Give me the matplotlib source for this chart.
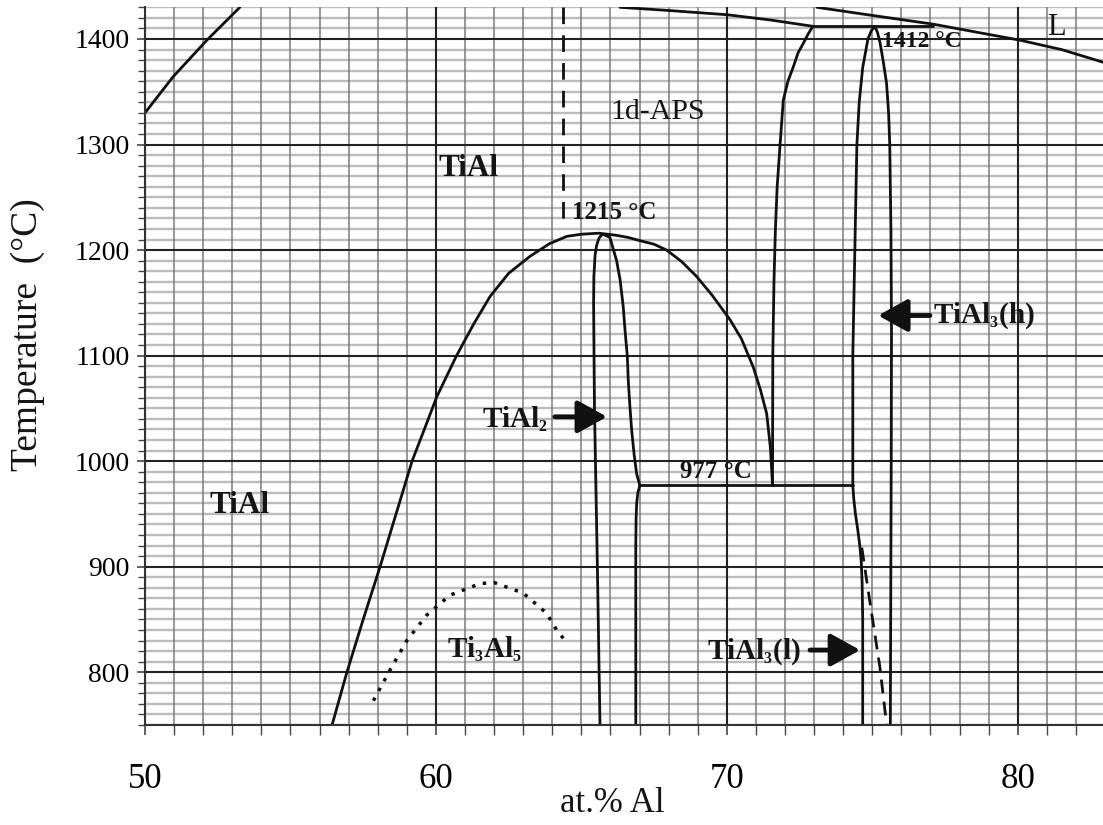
import matplotlib
matplotlib.use("Agg")
import matplotlib.pyplot as plt
import matplotlib._mathtext as mathtext_core
from matplotlib.ticker import MultipleLocator

plt.rcParams['font.family'] = ['Liberation Serif', 'DejaVu Serif']
plt.rcParams['mathtext.fontset'] = 'custom'
plt.rcParams['mathtext.rm'] = 'Liberation Serif:bold'
plt.rcParams['mathtext.default'] = 'rm'
# smaller chemical-formula subscripts
mathtext_core.SHRINK_FACTOR = 0.55

# --- phase boundaries (at.% Al, °C) ---
# upper-left liquidus
liq_left_x = [50.0, 50.96, 52.13, 53.26]
liq_left_t = [1330, 1364, 1399, 1430]

# liquidus ending at the 1412 °C peritectic
liq_mid_x = [66.33, 68.0, 70.0, 71.5, 72.96]
liq_mid_t = [1430, 1427, 1423, 1418, 1412]

# liquidus right of the peritectic
liq_right_x = [73.1, 74.58, 77.1, 80.05, 81.5, 82.93]
liq_right_t = [1430, 1424, 1414, 1399, 1390, 1378]

# big dome (1d-APS region)
dome_x = [56.43, 56.94, 57.5, 58.08, 58.63, 59.18, 59.6, 60.03, 60.71, 61.3, 61.86,
          62.5, 63.23, 63.9, 64.5, 65.0, 65.6, 66.2, 66.6, 67.0, 67.5, 67.93, 68.45,
          68.96, 69.5, 70.11, 70.5, 70.91, 71.15, 71.37, 71.5, 71.57]
dome_t = [750, 800, 850, 900, 950, 1000, 1030, 1061, 1100, 1130, 1156,
          1178, 1194, 1206, 1213, 1215, 1216, 1214, 1212, 1209, 1205.5, 1200, 1189,
          1175, 1157, 1134, 1116, 1089, 1068, 1045, 1012, 977]

# TiAl2 field
tial2_x = [65.64, 65.55, 65.45, 65.42, 65.43, 65.47, 65.52, 65.6, 65.68, 65.75,
           65.98, 66.21, 66.33, 66.44, 66.5, 66.58, 66.61, 66.67, 66.73, 66.81,
           66.9, 67.01]
tial2_t = [750, 900, 1050, 1150, 1175, 1195, 1204, 1211, 1214, 1215,
           1212, 1190, 1172, 1146, 1124, 1099, 1077, 1051, 1029, 1007,
           988, 977]

# boundary below the eutectoid, left side
low_left_x = [67.01, 66.94, 66.9, 66.88, 66.87, 66.87]
low_left_t = [977, 970, 960, 945, 920, 750]

# TiAl3(l) boundary below the eutectoid
low_right_x = [74.33, 74.36, 74.42, 74.5, 74.57, 74.62, 74.65, 74.67, 74.67]
low_right_t = [977, 965, 950, 935, 920, 905, 885, 850, 750]

# outer TiAl3(h) boundary
h_outer_x = [71.57, 71.58, 71.62, 71.67, 71.73, 71.83, 71.94, 72.1, 72.29,
             72.45, 72.63, 72.8, 72.96]
h_outer_t = [977, 1100, 1170, 1220, 1260, 1300, 1342, 1360, 1374,
             1387, 1396, 1405, 1412]

# inner TiAl3(h) dome
h_inner_x = [74.33, 74.33, 74.4, 74.47, 74.55, 74.67, 74.85, 74.97, 75.09,
             75.18, 75.27, 75.38, 75.49, 75.56, 75.6, 75.64, 75.66, 75.65, 75.62]
h_inner_t = [977, 1100, 1200, 1300, 1340, 1373, 1400, 1408, 1412,
             1406, 1396, 1378, 1358, 1330, 1300, 1220, 1121, 1000, 750]

# isotherms
eutectoid_x = [67.01, 74.33]
eutectoid_t = [977, 977]
peritectic_x = [72.96, 77.1]
peritectic_t = [1412, 1412]

# dashed TiAl3(l)/TiAl3(h) boundary
dash_x = [74.64, 74.91, 75.26, 75.49]
dash_t = [918, 868, 805, 751]

# dotted Ti3Al5 dome
ti3al5_x = [57.85, 58.42, 59.0, 59.68, 60.48, 61.52, 62.0, 63.0, 63.8, 64.15, 64.44]
ti3al5_t = [773, 802, 830, 854, 873, 884, 885, 875, 856, 840, 830]

# dashed vertical above the 1215 °C maximum
aps_x = [64.36, 64.36]
aps_t = [1430, 1226]

fig = plt.figure(figsize=(11.03, 8.25), dpi=100)
ax = fig.add_axes([145 / 1103, 100 / 825, 958 / 1103, 718 / 825])
ax.set_xlim(50, 82.93)
ax.set_ylim(750, 1430.3)

ax.xaxis.set_major_locator(MultipleLocator(10))
ax.xaxis.set_minor_locator(MultipleLocator(1))
ax.yaxis.set_major_locator(MultipleLocator(100))
ax.yaxis.set_minor_locator(MultipleLocator(10))

# graph-paper grid, drawn by hand so vertical lines stay on top of the light rows
for v in ax.yaxis.get_minorticklocs():
    ax.axhline(v, color='#bcbcbc', lw=1.7, zorder=0.6)
for v in ax.xaxis.get_minorticklocs():
    ax.axvline(v, color='#7a7a7a', lw=1.1, zorder=0.65)
for v in ax.get_yticks():
    ax.axhline(v, color='#222222', lw=1.5, zorder=0.7)
for v in ax.get_xticks():
    ax.axvline(v, color='#222222', lw=1.5, zorder=0.7)

for s in ['top', 'right']:
    ax.spines[s].set_visible(False)
for s in ['left', 'bottom']:
    ax.spines[s].set_color('#333333')
    ax.spines[s].set_linewidth(1.5)

ax.tick_params(which='both', direction='out', color='#444444')
ax.tick_params(axis='y', which='major', length=6, width=1.2, pad=5, labelsize=20)
ax.tick_params(axis='y', which='minor', length=5, width=1.0)
ax.tick_params(axis='x', which='major', length=7, width=1.2, pad=20, labelsize=25)
ax.tick_params(axis='x', which='minor', length=7, width=1.0)

lw = 2.0
c = '#111111'
for xs, ts in [(liq_left_x, liq_left_t), (liq_mid_x, liq_mid_t), (liq_right_x, liq_right_t),
               (dome_x, dome_t), (tial2_x, tial2_t), (low_left_x, low_left_t),
               (low_right_x, low_right_t), (h_outer_x, h_outer_t), (h_inner_x, h_inner_t),
               (eutectoid_x, eutectoid_t), (peritectic_x, peritectic_t)]:
    ax.plot(xs, ts, color=c, lw=lw, solid_joinstyle='round', solid_capstyle='round')

ax.plot(dash_x, dash_t, color=c, lw=2.0, linestyle=(0, (5, 3)))
ax.plot(aps_x, aps_t, color=c, lw=2.0, linestyle=(0, (6, 4)))
ax.plot(ti3al5_x, ti3al5_t, color=c, lw=2.5, linestyle=(0, (1.0, 2.2)))

# phase labels
tc = '#151515'
ax.text(60.1, 1277, 'TiAl', fontsize=22.5, fontweight='bold', color=tc, va='center')
ax.text(52.23, 958, 'TiAl', fontsize=22.5, fontweight='bold', color=tc, va='center')
ax.text(65.98, 1331, '1d-APS', fontsize=21.5, color=tc, va='center')
ax.text(81.0, 1411, 'L', fontsize=22, color=tc, va='center')
ax.text(64.68, 1236, '1215 °C', fontsize=18, fontweight='bold', color=tc, va='center')
ax.text(75.33, 1398, '1412 °C', fontsize=17, fontweight='bold', color=tc, va='center')
ax.text(68.39, 990, '977 °C', fontsize=18, fontweight='bold', color=tc, va='center')
ax.text(60.38, 814, 'Ti$_3$Al$_5$', fontsize=21, fontweight='bold', color=tc, va='baseline')
ax.text(61.58, 1032, 'TiAl$_2$', fontsize=21, fontweight='bold', color=tc, va='baseline')
ax.text(77.09, 1131, 'TiAl$_3$(h)', fontsize=21, fontweight='bold', color=tc, va='baseline')
ax.text(69.32, 813, 'TiAl$_3$(l)', fontsize=21, fontweight='bold', color=tc, va='baseline')

arrow = dict(arrowstyle='-|>,head_length=0.9,head_width=0.5', lw=3.5, color=c,
             mutation_scale=20, shrinkA=0, shrinkB=0)
ax.annotate('', xy=(65.88, 1042), xytext=(64.09, 1042), arrowprops=arrow)
ax.annotate('', xy=(75.2, 1138), xytext=(76.98, 1138), arrowprops=arrow)
ax.annotate('', xy=(74.58, 821), xytext=(72.86, 821), arrowprops=arrow)

fig.text(28 / 1103, 1 - 335 / 825, 'Temperature  (°C)', rotation=90, fontsize=27,
         color=tc, ha='center', va='center')
fig.text(612 / 1103, 1 - 803 / 825, 'at.% Al', fontsize=25, color=tc,
         ha='center', va='center')

fig.savefig('out.png', dpi=100)
